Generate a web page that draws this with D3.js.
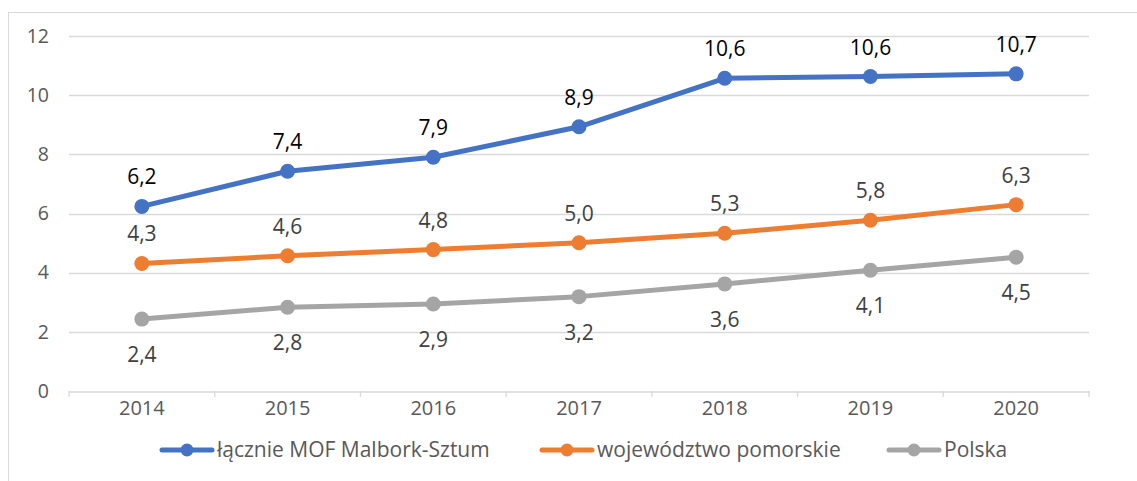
<!DOCTYPE html>
<html>
<head>
<meta charset="utf-8">
<script src="https://cdn.jsdelivr.net/npm/d3@7"></script>
<style>
  html, body { margin: 0; padding: 0; background: #fff; }
  svg text { font-family: "Open Sans", "Noto Sans", sans-serif; }
</style>
</head>
<body>
<svg id="chart" width="1137" height="481"></svg>
<script>
// Years on the category axis
const years = ["2014", "2015", "2016", "2017", "2018", "2019", "2020"];

// Series values
const mofMalborkSztum = [6.24, 7.43, 7.9, 8.93, 10.57, 10.63, 10.72];
const pomorskie = [4.31, 4.57, 4.78, 5.01, 5.33, 5.77, 6.3];
const polska = [2.43, 2.83, 2.94, 3.19, 3.62, 4.08, 4.52];

// Value axis ticks
const yTicks = [0, 2, 4, 6, 8, 10, 12];

// Series names for the legend
const seriesNames = ["łącznie MOF Malbork-Sztum", "województwo pomorskie", "Polska"];

const series = [
  { name: seriesNames[0], values: mofMalborkSztum, color: "#4472C4", labelColor: "#000000", labelPos: "above" },
  { name: seriesNames[1], values: pomorskie, color: "#ED7D31", labelColor: "#404040", labelPos: "above" },
  { name: seriesNames[2], values: polska, color: "#A5A5A5", labelColor: "#404040", labelPos: "below" }
];

const svg = d3.select("#chart");

// Chart frame
svg.append("rect")
  .attr("x", 8.5).attr("y", 12.5)
  .attr("width", 1140).attr("height", 480)
  .attr("fill", "none").attr("stroke", "#d9d9d9").attr("stroke-width", 1);

const plot = { left: 69, right: 1089, top: 36, bottom: 391 };

const x = d3.scaleBand().domain(years).range([plot.left, plot.right]).padding(0);
const y = d3.scaleLinear().domain([0, 12]).range([plot.bottom, plot.top]);
const cx = d => x(d) + x.bandwidth() / 2;

// Horizontal gridlines
svg.append("g")
  .selectAll("line")
  .data(yTicks.filter(t => t > 0))
  .join("line")
  .attr("x1", plot.left).attr("x2", plot.right)
  .attr("y1", d => Math.round(y(d)) + 0.5).attr("y2", d => Math.round(y(d)) + 0.5)
  .attr("stroke", "#d9d9d9").attr("stroke-width", 1.3);

// Value axis labels
const yAxis = d3.axisLeft(y).tickValues(yTicks).tickSize(0).tickPadding(20).tickFormat(d3.format("d"));
const gy = svg.append("g").attr("transform", `translate(${plot.left},0)`).call(yAxis);
gy.select(".domain").remove();
gy.selectAll("text").attr("fill", "#595959").style("font-size", "19.5px");

// Category axis with tick marks between categories
const gx = svg.append("g").attr("transform", `translate(0,${plot.bottom + 0.5})`)
  .call(d3.axisBottom(x).tickSize(0).tickPadding(9));
gx.select(".domain").attr("stroke", "#d9d9d9").attr("stroke-width", 1.3);
gx.selectAll("text").attr("fill", "#595959").style("font-size", "20px");
svg.append("g")
  .selectAll("line")
  .data(years.concat(["end"]))
  .join("line")
  .attr("x1", (d, i) => i < years.length ? x(d) : plot.right)
  .attr("x2", (d, i) => i < years.length ? x(d) : plot.right)
  .attr("y1", plot.bottom).attr("y2", plot.bottom + 6)
  .attr("stroke", "#d9d9d9").attr("stroke-width", 1.3);

// Lines, markers and value labels
const line = d3.line()
  .x((d, i) => cx(years[i]))
  .y(d => y(d));

const fmt = v => d3.format(".1f")(v).replace(".", ",");

series.forEach(s => {
  const g = svg.append("g");
  g.append("path")
    .datum(s.values)
    .attr("d", line)
    .attr("fill", "none")
    .attr("stroke", s.color)
    .attr("stroke-width", 5)
    .attr("stroke-linecap", "round")
    .attr("stroke-linejoin", "round");
  g.selectAll("circle")
    .data(s.values)
    .join("circle")
    .attr("cx", (d, i) => cx(years[i]))
    .attr("cy", d => y(d))
    .attr("r", 7.5)
    .attr("fill", s.color);
  g.selectAll("text")
    .data(s.values)
    .join("text")
    .attr("x", (d, i) => cx(years[i]))
    .attr("y", d => s.labelPos === "above" ? y(d) - 22 : y(d) + 43)
    .attr("text-anchor", "middle")
    .attr("fill", s.labelColor)
    .style("font-size", "21px")
    .text(d => fmt(d));
});

// Legend
const legendItems = [
  { x: 160, s: series[0] },
  { x: 540, s: series[1] },
  { x: 887, s: series[2] }
];
const legend = svg.append("g");
legendItems.forEach(it => {
  const ly = 450;
  legend.append("line")
    .attr("x1", it.x + 2).attr("x2", it.x + 52)
    .attr("y1", ly).attr("y2", ly)
    .attr("stroke", it.s.color).attr("stroke-width", 5).attr("stroke-linecap", "round");
  legend.append("circle")
    .attr("cx", it.x + 27).attr("cy", ly).attr("r", 6.5).attr("fill", it.s.color);
  legend.append("text")
    .attr("x", it.x + 57).attr("y", ly + 7)
    .attr("fill", "#595959")
    .style("font-size", "21px")
    .text(it.s.name);
});
</script>
</body>
</html>
